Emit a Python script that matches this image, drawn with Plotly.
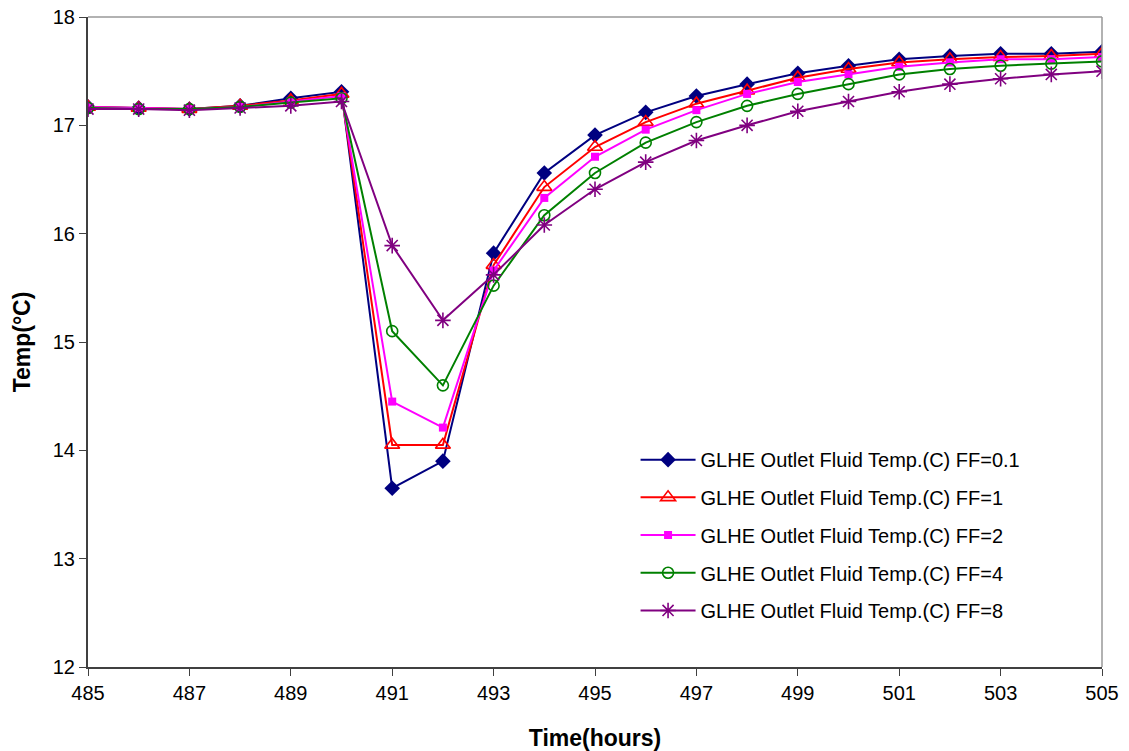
import plotly.graph_objects as go

hours = list(range(485, 506))

ff_01 = [17.17, 17.16, 17.15, 17.18, 17.25, 17.31, 13.65, 13.90, 15.82, 16.56, 16.91, 17.12,
         17.27, 17.38, 17.48, 17.55, 17.61, 17.64, 17.66, 17.66, 17.68]
ff_1 = [17.17, 17.16, 17.15, 17.18, 17.23, 17.29, 14.05, 14.05, 15.71, 16.43, 16.80, 17.03,
        17.20, 17.32, 17.44, 17.52, 17.58, 17.61, 17.63, 17.64, 17.66]
ff_2 = [17.17, 17.16, 17.15, 17.17, 17.22, 17.27, 14.45, 14.21, 15.66, 16.33, 16.71, 16.96,
        17.14, 17.29, 17.40, 17.47, 17.54, 17.58, 17.61, 17.61, 17.63]
ff_4 = [17.16, 17.15, 17.15, 17.17, 17.21, 17.25, 15.10, 14.60, 15.52, 16.17, 16.56, 16.84,
        17.03, 17.18, 17.29, 17.38, 17.47, 17.52, 17.55, 17.57, 17.59]
ff_8 = [17.15, 17.15, 17.14, 17.16, 17.18, 17.22, 15.89, 15.20, 15.62, 16.08, 16.41, 16.66,
        16.86, 17.00, 17.13, 17.22, 17.31, 17.38, 17.43, 17.47, 17.50]

names = ["GLHE Outlet Fluid Temp.(C) FF=0.1", "GLHE Outlet Fluid Temp.(C) FF=1",
         "GLHE Outlet Fluid Temp.(C) FF=2", "GLHE Outlet Fluid Temp.(C) FF=4",
         "GLHE Outlet Fluid Temp.(C) FF=8"]
series = [ff_01, ff_1, ff_2, ff_4, ff_8]
colors = ["#000080", "#FF0000", "#FF00FF", "#008000", "#800080"]
markers = [
    dict(symbol="diamond", size=12, color="#000080"),
    dict(symbol="triangle-up-open", size=13, color="#FF0000", line=dict(width=1.6, color="#FF0000")),
    dict(symbol="square", size=8, color="#FF00FF"),
    dict(symbol="circle-open", size=11, color="#008000", line=dict(width=1.6, color="#008000")),
    dict(symbol="asterisk-open", size=13, color="#800080", line=dict(width=1.6, color="#800080")),
]

fig = go.Figure()
for i, (nm, ys) in enumerate(zip(names, series)):
    fig.add_trace(go.Scatter(
        x=hours, y=ys, name=nm, mode="lines+markers",
        line=dict(color=colors[i], width=2),
        marker=markers[i], legendgroup=str(i),
    ))

font = "Liberation Sans, Arial, sans-serif"
fig.update_layout(
    width=1129, height=751,
    margin=dict(l=88, r=27, t=17, b=84),
    paper_bgcolor="white", plot_bgcolor="white",
    font=dict(family=font, size=20, color="black"),
    showlegend=True,
    legend=dict(x=0.540, y=0.349, xanchor="left", yanchor="top",
                bgcolor="rgba(0,0,0,0)", borderwidth=0,
                font=dict(size=20, family=font), tracegroupgap=8.7,
                itemwidth=55),
    xaxis=dict(range=[485, 505], tickmode="linear", tick0=485, dtick=2,
               showgrid=False, zeroline=False, showline=True, automargin=False,
               linecolor="#404040", linewidth=2, ticks="outside",
               ticklen=7, tickcolor="#404040", tickwidth=1,
               tickfont=dict(size=20),
               title=dict(text="<b>Time(hours)</b>", font=dict(size=23), standoff=28)),
    yaxis=dict(range=[12, 18], tickmode="linear", tick0=12, dtick=1,
               showgrid=False, zeroline=False, showline=True, automargin=False,
               linecolor="#404040", linewidth=2, ticks="outside",
               ticklen=7, tickcolor="#404040", tickwidth=1,
               tickfont=dict(size=20),
               title=dict(text="<b>Temp(°C)</b>", font=dict(size=23), standoff=16)),
    shapes=[
        dict(type="line", xref="paper", yref="paper", x0=0, x1=1, y0=1, y1=1,
             line=dict(color="#999999", width=1.5)),
        dict(type="line", xref="paper", yref="paper", x0=1, x1=1, y0=0, y1=1,
             line=dict(color="#999999", width=1.5)),
    ],
)

fig.write_html("out.html")
